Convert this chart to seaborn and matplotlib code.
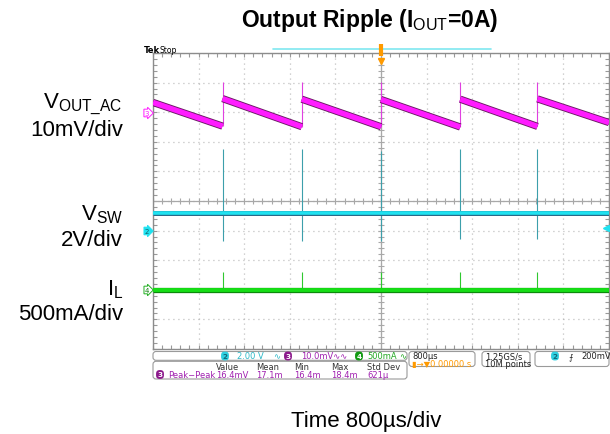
import numpy as np
import pandas as pd
import matplotlib
matplotlib.use("Agg")
import matplotlib.pyplot as plt
import seaborn as sns
from matplotlib.patches import FancyBboxPatch
from matplotlib.transforms import Affine2D
from matplotlib.ticker import MultipleLocator

W, H = 610, 435

# ch3  V_OUT_AC (mV), sawtooth ramps
ramp_start_us = [-4000, -2780, -1390, 0, 1390, 2745]
ramp_end_us = [-2780, -1390, 0, 1390, 2745, 4000]
ramp_start_mv = [3.3, 4.6, 4.4, 4.3, 4.4, 4.5]
ramp_end_mv = [-4.7, -4.9, -4.9, -5.0, -4.8, -3.5]
jump_us = [-2780, -1390, 0, 1390, 2745]
jump_low_mv = [-4.7, -4.9, -4.9, -5.0, -4.8]
jump_peak_mv = [10.3, 10.3, 10.3, 10.2, 10.3]

# ch2  V_SW (V)
vsw_level_v = 1.2
vsw_spike_top_v = [5.5, 5.5, 5.4, 5.5, 5.5]
vsw_spike_bot_v = [-0.7, -0.7, -0.7, -0.6, -0.6]

# ch4  I_L (mA)
il_level_ma = 0
il_spike_ma = [300, 300, 300, 300, 300]

measure_cols = ["Value", "Mean", "Min", "Max", "Std Dev"]
measure_vals = ["16.4mV", "17.1m", "16.4m", "18.4m", "621µ"]

# (marker position in div, units per div)
CH3 = (3, 10)
CH2 = (-1, 2)
CH4 = (-3, 500)

MAGENTA = "#ff1cff"
CYAN = "#1fe2f0"
GREEN = "#16de16"
ORANGE = "#ff9a00"
PURPLE_TXT = "#a020b0"


def to_div(vals, ch):
    return ch[0] + np.asarray(vals, dtype=float) / ch[1]


def fpos(x, y):
    return x / W, 1 - y / H


sns.set_style("white")
plt.rcParams['font.family'] = ['Liberation Sans', 'DejaVu Sans']
plt.rcParams['text.color'] = 'black'
plt.rcParams['mathtext.fontset'] = 'custom'
plt.rcParams['mathtext.rm'] = 'Liberation Sans'
plt.rcParams['mathtext.bf'] = 'Liberation Sans:bold'

fig = plt.figure(figsize=(W / 100, H / 100), dpi=100)
ax = fig.add_axes([153 / W, 1 - 350 / H, 456 / W, 296 / H])
pix = Affine2D().scale(1 / W, -1 / H).translate(0, 1) + fig.transFigure

# graticule
ax.set_xlim(-4000, 4000)
ax.set_ylim(-5, 5)
ax.xaxis.set_major_locator(MultipleLocator(800))
ax.xaxis.set_minor_locator(MultipleLocator(160))
ax.yaxis.set_major_locator(MultipleLocator(1))
ax.yaxis.set_minor_locator(MultipleLocator(0.2))
ax.grid(True, which='major', color='#a8a8a8', linestyle=(0, (0.7, 3.3)), lw=0.9)
ax.tick_params(which='both', direction='in', top=True, right=True, bottom=True, left=True,
               length=3, width=0.8, color='#999999', labelbottom=False, labelleft=False)
for sp in ax.spines.values():
    sp.set_color('#8c8c8c')
    sp.set_linewidth(1.0)
ax.axhline(0, color='#a8a8a8', lw=0.9, zorder=1)
ax.axvline(0, color='#a8a8a8', lw=0.9, zorder=1)
ax.plot(np.arange(-4000, 4001, 160), np.zeros(51), ls='none', marker='|', ms=5,
        mew=0.8, color='#a8a8a8', zorder=1)
ax.plot(np.zeros(51), np.linspace(-5, 5, 51), ls='none', marker='_', ms=5,
        mew=0.8, color='#a8a8a8', zorder=1)

# spikes
ax.vlines(jump_us, to_div(vsw_spike_bot_v, CH2), to_div(vsw_spike_top_v, CH2),
          color='#3c9fab', lw=0.8, zorder=2)
ax.vlines(jump_us, to_div([il_level_ma] * 5, CH4), to_div(il_spike_ma, CH4),
          color='#2fc82f', lw=0.8, zorder=2)
ax.vlines(jump_us, to_div(jump_low_mv, CH3), to_div(jump_peak_mv, CH3),
          color='#e040e0', lw=0.8, zorder=3)

# ch3 ramps
rows = []
for i in range(len(ramp_start_us)):
    rows.append((i, ramp_start_us[i], ramp_start_mv[i]))
    rows.append((i, ramp_end_us[i], ramp_end_mv[i]))
vout = pd.DataFrame(rows, columns=['seg', 't', 'mv'])
vout['div'] = to_div(vout['mv'], CH3)

flat = pd.DataFrame({
    't': [-4000, 4000, -4000, 4000],
    'div': np.concatenate([to_div([vsw_level_v] * 2, CH2), to_div([il_level_ma] * 2, CH4)]),
    'ch': ['ch2', 'ch2', 'ch4', 'ch4'],
})

sns.lineplot(data=vout, x='t', y='div', units='seg', estimator=None, sort=False,
             color='#6a1a63', lw=5.2, solid_capstyle='butt', ax=ax, zorder=4)
sns.lineplot(data=vout, x='t', y='div', units='seg', estimator=None, sort=False,
             color=MAGENTA, lw=3.9, solid_capstyle='butt', ax=ax, zorder=5)
for ch, dark, bright, lw in [('ch2', '#2a6a88', CYAN, 3.6), ('ch4', '#0b8a0b', GREEN, 3.8)]:
    sub = flat[flat['ch'] == ch]
    sns.lineplot(data=sub, x='t', y='div', estimator=None, sort=False,
                 color=dark, lw=lw, solid_capstyle='butt', ax=ax, zorder=4)
    sns.lineplot(data=sub, x='t', y='div', estimator=None, sort=False,
                 color=bright, lw=lw - 1.0, solid_capstyle='butt', ax=ax, zorder=5)
ax.set_xlabel('')
ax.set_ylabel('')

# trigger level marker and record bar
ax.plot([3950], [to_div([0.2], CH2)[0]], marker='<', ms=4, color=CYAN, clip_on=False, zorder=6)
ax.plot([-1895, 1930], [5.135, 5.135], color='#7fe8f0', lw=1.2, clip_on=False, zorder=6)
ax.plot([0], [5.1], marker='|', ms=8, mew=3, color=ORANGE, clip_on=False, zorder=7)
ax.plot([0], [4.73], marker='v', ms=5, color=ORANGE, clip_on=False, zorder=7)

# channel ground markers
fig.text(*fpos(147, 114), '3', fontsize=5, color=MAGENTA, ha='center', va='center',
         family='DejaVu Sans',
         bbox=dict(boxstyle='rarrow,pad=0.12', fc='white', ec=MAGENTA, lw=0.7))
fig.text(*fpos(147, 232), '2', fontsize=5, color='#10606a', ha='center', va='center',
         family='DejaVu Sans',
         bbox=dict(boxstyle='rarrow,pad=0.12', fc=CYAN, ec=CYAN, lw=0.7))
fig.text(*fpos(147, 291), '4', fontsize=5, color='#108010', ha='center', va='center',
         family='DejaVu Sans',
         bbox=dict(boxstyle='rarrow,pad=0.12', fc='white', ec='#20b020', lw=0.7))

fig.text(*fpos(144, 53), 'Tek', fontsize=6, fontweight='bold', va='baseline', family='DejaVu Sans')
fig.text(*fpos(160, 53), 'Stop', fontsize=5.5, va='baseline', family='DejaVu Sans')

# labels
fig.text(*fpos(370, 27.5), r'Output Ripple (I$_{\mathrm{OUT}}$=0A)', fontsize=16.5,
         fontweight='bold', ha='center', va='baseline')
LBL = 16
fig.text(*fpos(123, 108), r'V$_{\mathrm{OUT\_AC}}$', fontsize=LBL, ha='right', va='baseline')
fig.text(*fpos(123, 136), '10mV/div', fontsize=LBL, ha='right', va='baseline')
fig.text(*fpos(123, 220), r'V$_{\mathrm{SW}}$', fontsize=LBL, ha='right', va='baseline')
fig.text(*fpos(123, 246), '2V/div', fontsize=LBL, ha='right', va='baseline')
fig.text(*fpos(123, 295), r'I$_{\mathrm{L}}$', fontsize=LBL, ha='right', va='baseline')
fig.text(*fpos(123, 320), '500mA/div', fontsize=LBL, ha='right', va='baseline')
fig.text(*fpos(366, 427), 'Time 800µs/div', fontsize=16, ha='center', va='baseline')

# readout panel
for x0, y0, x1, y1 in [(153, 352.5, 407, 361.3), (153, 362.3, 407, 380),
                       (409, 352.5, 475, 367.5), (482, 352.5, 530, 367.5),
                       (535, 352.5, 609, 367.5)]:
    fig.patches.append(FancyBboxPatch((x0, y0), x1 - x0, y1 - y0,
                                      boxstyle='round,pad=0,rounding_size=3',
                                      fc='white', ec='#9a9a9a', lw=0.8, transform=pix))

SMALL = 6.0
MONO = 'DejaVu Sans'


def badge(x, y, num, fc, tc):
    fig.text(*fpos(x, y), num, fontsize=SMALL - 0.8, color=tc, ha='center', va='center',
             family=MONO, fontweight='bold',
             bbox=dict(boxstyle='round,pad=0.2,rounding_size=0.5', fc=fc, ec='none'))


badge(225, 357, '2', '#2fd0e0', '#106878')
fig.text(*fpos(237, 357), '2.00 V', fontsize=SMALL, color='#2cb8c8', va='center', family=MONO)
fig.text(*fpos(273, 357), '∿', fontsize=SMALL, color='#2cb8c8', va='center', family=MONO)
badge(288, 357, '3', '#8c1a8c', '#ffffff')
fig.text(*fpos(301, 357), '10.0mV∿∿', fontsize=SMALL, color=PURPLE_TXT, va='center', family=MONO)
badge(359, 357, '4', '#129a12', '#ffffff')
fig.text(*fpos(367, 357), '500mA', fontsize=SMALL, color='#22a822', va='center', family=MONO)
fig.text(*fpos(399, 357), '∿', fontsize=SMALL, color='#22a822', va='center', family=MONO)

col_x = [216, 256, 294, 331, 367]
for cx, head, val in zip(col_x, measure_cols, measure_vals):
    fig.text(*fpos(cx, 367.5), head, fontsize=SMALL, color='#333333', va='center', family=MONO)
    fig.text(*fpos(cx, 375.5), val, fontsize=SMALL, color=PURPLE_TXT, va='center', family=MONO)
badge(160, 375.5, '3', '#8c1a8c', '#ffffff')
fig.text(*fpos(168, 375.5), 'Peak−Peak', fontsize=SMALL, color=PURPLE_TXT, va='center', family=MONO)

fig.text(*fpos(412, 357), '800µs', fontsize=SMALL, color='#222222', va='center', family=MONO)
fig.text(*fpos(412, 364.5), '▮→▼0.00000 s', fontsize=SMALL, color=ORANGE, va='center', family=MONO)
fig.text(*fpos(485, 357), '1.25GS/s', fontsize=SMALL, color='#222222', va='center', family=MONO)
fig.text(*fpos(485, 364.5), '10M points', fontsize=SMALL, color='#222222', va='center', family=MONO)
badge(555, 357, '2', '#2fd0e0', '#106878')
fig.text(*fpos(568, 357), '⨍', fontsize=SMALL, color='#222222', va='center', family=MONO)
fig.text(*fpos(581, 357), '200mV', fontsize=SMALL, color='#222222', va='center', family=MONO)

fig.savefig('out.png', dpi=100)
